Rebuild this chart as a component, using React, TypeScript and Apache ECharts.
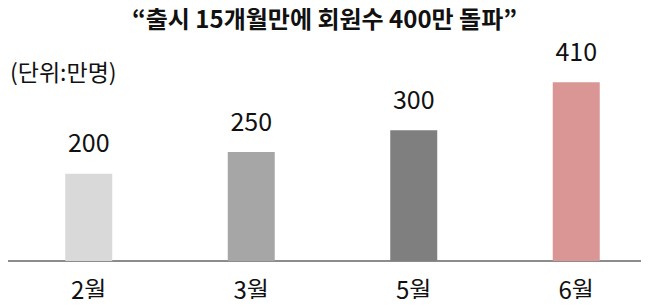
import React, { useEffect, useRef } from "react";
import * as echarts from "echarts";

const categories = ["2월", "3월", "5월", "6월"];
const values = [200, 250, 300, 410];
const barColors = ["#d9d9d9", "#a6a6a6", "#7f7f7f", "#d99694"];
const titleText = "“출시 15개월만에 회원수 400만 돌파”";
const unitText = "(단위:만명)";

const FONT = "'Noto Sans CJK KR', 'Noto Sans', sans-serif";

export default function App() {
  const ref = useRef<HTMLDivElement>(null);
  useEffect(() => {
    if (!ref.current) return;
    const chart = echarts.init(ref.current, null, { renderer: "svg" });
    chart.setOption({
      animation: false,
      backgroundColor: "#ffffff",
      title: [
        {
          text: titleText,
          left: "center",
          top: 0,
          textStyle: { fontFamily: FONT, fontSize: 24, fontWeight: "bold", color: "#111" },
        },
        {
          text: unitText,
          left: 5,
          top: 54,
          textStyle: { fontFamily: FONT, fontSize: 23, fontWeight: "normal", color: "#111" },
        },
      ],
      grid: {
        left: 7.5,
        right: -8.5,
        top: 43,
        bottom: 46,
        outerBoundsMode: "none",
        containLabel: false,
      },
      xAxis: {
        type: "category",
        data: categories,
        axisLine: { show: true, lineStyle: { color: "#8c8c8c", width: 2 } },
        axisTick: { show: false },
        axisLabel: { fontFamily: FONT, fontSize: 24, color: "#111", margin: 15 },
      },
      yAxis: {
        type: "value",
        min: 0,
        max: 500,
        show: false,
        splitLine: { show: false },
      },
      series: [
        {
          type: "bar",
          barWidth: 47,
          data: values.map((v, i) => ({ value: v, itemStyle: { color: barColors[i] } })),
          label: {
            show: true,
            position: "top",
            distance: 20,
            fontFamily: FONT,
            fontSize: 25,
            color: "#111",
          },
        },
      ],
    });
    return () => chart.dispose();
  }, []);
  return <div ref={ref} style={{ width: 649, height: 307, margin: -8 }} />;
}
